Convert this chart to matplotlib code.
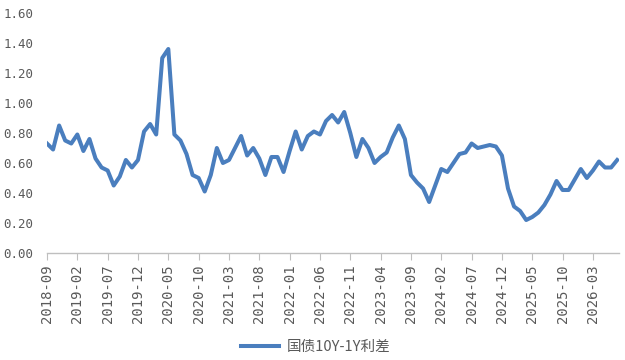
import numpy as np
import pandas as pd
import matplotlib
matplotlib.use('Agg')
import matplotlib.pyplot as plt

# monthly 10Y-1Y treasury spread, 2018-09 .. 2026-07
months = pd.period_range('2018-09', '2026-07', freq='M').strftime('%Y-%m').tolist()
spread = [
    0.73, 0.69, 0.85, 0.75, 0.73, 0.79, 0.68, 0.76, 0.63, 0.57,
    0.55, 0.45, 0.51, 0.62, 0.57, 0.62, 0.81, 0.86, 0.79, 1.30,
    1.36, 0.79, 0.75, 0.66, 0.52, 0.50, 0.41, 0.52, 0.70, 0.60,
    0.62, 0.70, 0.78, 0.65, 0.70, 0.63, 0.52, 0.64, 0.64, 0.54,
    0.68, 0.81, 0.69, 0.78, 0.81, 0.79, 0.88, 0.92, 0.87, 0.94,
    0.80, 0.64, 0.76, 0.70, 0.60, 0.64, 0.67, 0.77, 0.85, 0.76,
    0.52, 0.47, 0.43, 0.34, 0.45, 0.56, 0.54, 0.60, 0.66, 0.67,
    0.73, 0.70, 0.71, 0.72, 0.71, 0.65, 0.43, 0.31, 0.28, 0.22,
    0.24, 0.27, 0.32, 0.39, 0.48, 0.42, 0.42, 0.49, 0.56, 0.50,
    0.55, 0.61, 0.57, 0.57, 0.62,
]
label = '国债10Y-1Y利差'
yticks = [0.0, 0.2, 0.4, 0.6, 0.8, 1.0, 1.2, 1.4, 1.6]

blue = '#4A7EBE'
grey = '#595959'

fig = plt.figure(figsize=(6.25, 3.6), dpi=100)
ax = fig.add_axes([47 / 625, 107 / 360, 572 / 625, 240 / 360])

x = np.arange(len(spread))
ax.plot(x, spread, color=blue, lw=2.9, solid_joinstyle='round', label=label)

ax.set_xlim(0, len(spread) - 0.7)
ax.set_ylim(0, 1.6)

ax.set_xticks(x[::5])
ax.set_xticklabels(months[::5], rotation=90, family='DejaVu Sans Mono',
                   fontsize=10, color=grey)
ax.set_yticks(yticks)
ax.set_yticklabels(['%.2f' % v for v in yticks], family='DejaVu Sans Mono',
                   fontsize=9, color=grey)

for s in ['top', 'right', 'left']:
    ax.spines[s].set_visible(False)
ax.spines['bottom'].set_color('#BFBFBF')
ax.spines['bottom'].set_linewidth(1.0)
ax.tick_params(axis='x', direction='out', length=5, color='#BFBFBF', pad=3)
ax.tick_params(axis='y', length=0, pad=10)

leg = fig.legend(loc='center', bbox_to_anchor=(0.505, 0.036), frameon=False,
                 handlelength=2.6, handletextpad=0.5,
                 prop={'family': ['Noto Sans CJK SC', 'DejaVu Sans'], 'size': 10.5})
for t in leg.get_texts():
    t.set_color(grey)

fig.savefig('out.png', dpi=100)
